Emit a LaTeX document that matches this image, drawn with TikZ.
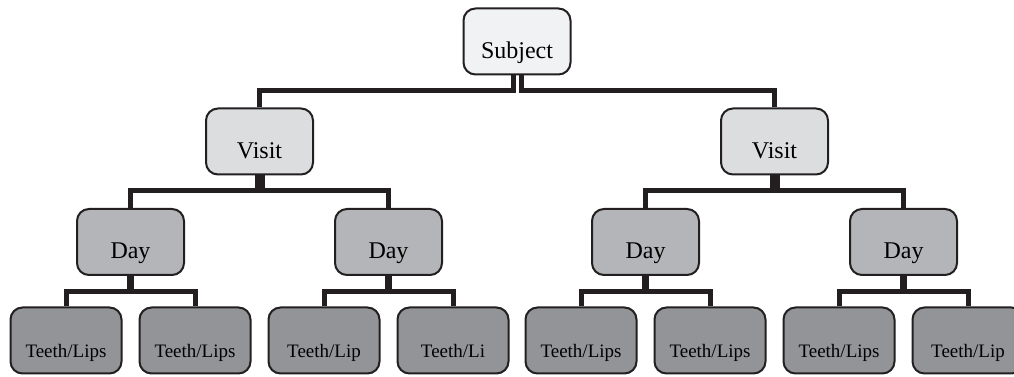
\documentclass[tikz,border=0pt]{standalone}
\usepackage{fontspec}
\setmainfont{Liberation Serif}
\usetikzlibrary{trees}
\definecolor{inkline}{HTML}{231F20}
\definecolor{subjectfill}{HTML}{F1F2F4}
\definecolor{visitfill}{HTML}{DCDDDF}
\definecolor{dayfill}{HTML}{B4B5B8}
\definecolor{leaffill}{HTML}{939498}

\begin{document}
\begin{tikzpicture}[
        x=1pt, y=1pt,
        stemgap/.initial=0pt,
        drop/.initial=15pt,
        every node/.style={
            draw=inkline,
            line width=2pt,
            rounded corners=12pt,
            minimum width=107pt,
            text height=50pt,
            text depth=16pt,
            inner ysep=0pt,
            font=\fontsize{24}{28}\selectfont
        },
        edge from parent/.style={draw=inkline, line width=5pt},
        edge from parent path={
            ([xshift={(2*\tikznumberofcurrentchild-3)*\pgfkeysvalueof{/tikz/stemgap}}]\tikzparentnode.south)
            -- ++(0,-\pgfkeysvalueof{/tikz/drop}) -| (\tikzchildnode.north)},
        level 1/.style={
            level distance=100pt,
            sibling distance=515pt,
            stemgap=4pt,
            nodes={fill=visitfill}
        },
        level 2/.style={
            level distance=100.5pt,
            sibling distance=258pt,
            stemgap=2.5pt,
            nodes={fill=dayfill}
        },
        level 3/.style={
            level distance=98.5pt,
            sibling distance=129pt,
            stemgap=1pt,
            drop=16pt,
            nodes={fill=leaffill, minimum width=111pt, font=\fontsize{19}{22}\selectfont}
        }
    ]
    \useasboundingbox (0,0) rectangle (1014,377);

        \node[fill=subjectfill] (subject) at (517,335.5) {Subject}
        child { node {Visit}
            child { node {Day}
                child { node {Teeth/Lips}}
                child { node {Teeth/Lips}}
            }
            child { node {Day}
                child { node {Teeth/Lip}}
                child { node {Teeth/Li}}
            }
        }
        child { node {Visit}
            child { node {Day}
                child { node {Teeth/Lips}}
                child { node {Teeth/Lips}}
            }
            child { node {Day}
                child { node {Teeth/Lips}}
                child { node {Teeth/Lip}}
            }
        }
                ;
    \end{tikzpicture}
\end{document}
